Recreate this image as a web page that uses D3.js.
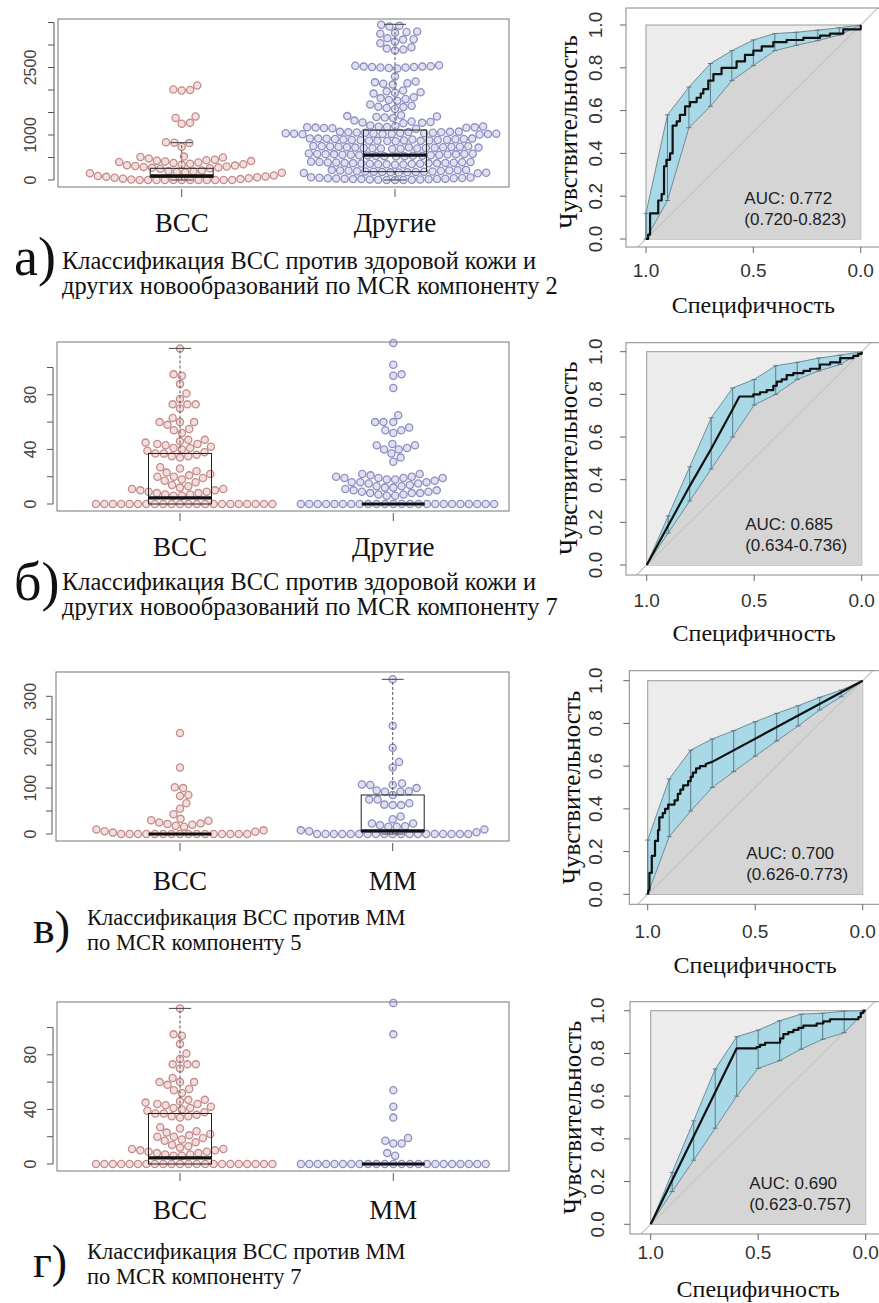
<!DOCTYPE html>
<html>
<head>
<meta charset="utf-8">
<script src="https://d3js.org/d3.v7.min.js"></script>
<style>
  body { margin: 0; background: #fff; }
  .serif { font-family: "Liberation Serif", "DejaVu Serif", serif; }
  .sans { font-family: "Liberation Sans", "DejaVu Sans", sans-serif; }
</style>
</head>
<body>
<svg id="fig" width="879" height="1303"></svg>
<script>
// ---------- beeswarm values ----------
var bccA = [0,0,0,0,0,0,0,0,0,0,0,0,10,20,30,40,50,60,70,80,90,100,
  150,160,170,180,190,200,210,
  250,260,270,280,290,300,310,320,330,340,350,360,
  380,390,400,410,420,430,440,450,
  480,500,510,520,
  740,820,830,840,
  1250,1270,1380,1410,
  1990,2000,2010,2100];

var otherA = [0,0,0,5,5,10,10,15,20,20,25,30,30,35,40,40,45,50,55,60,
  150,155,160,165,170,175,180,180,185,185,190,190,195,200,205,210,210,215,220,225,
  340,345,350,350,355,360,360,365,370,370,375,380,380,385,390,390,395,400,400,405,
  525,530,530,535,540,540,545,550,550,555,560,560,565,570,570,575,580,580,585,590,
  690,695,700,700,705,710,710,715,720,720,725,730,730,735,740,740,745,750,750,755,
  860,865,870,870,875,880,880,885,890,890,895,900,900,905,910,910,915,920,920,925,
  1010,1015,1020,1020,1025,1030,1030,1035,1040,1040,1045,1050,1050,1055,1060,1060,1065,1070,1070,1075,
  1140,1150,1155,1160,1165,1170,1175,1180,1185,1190,1200,1210,
  1260,1270,1280,1290,1300,1320,
  1380,1390,1400,1410,1420,1440,
  1580,1600,1620,1630,1650,1680,
  1760,1780,1800,1820,1840,
  1920,1940,1950,1970,1990,
  2120,2140,2150,2170,2190,
  2300,
  2480,2490,2500,2500,2510,2510,2520,2520,2530,2540,2550,
  2880,2900,2920,2950,3040,3070,3120,3130,3150,3250,3270,3290,3300,3410,3430,3450];

var bccB = [0,0,0,0,0,0,0,0,0,0,0,0,0,0,0,0,0,0,0,0,0,0,
  6,6,7,7,8,8,9,9,10,10,11,11,12,13,14,16,
  17,18,19,20,20,21,22,23,24,26,27,
  34,35,35,36,37,37,38,39,40,41,41,42,43,44,44,45,46,47,47,
  52,54,55,58,60,60,60,63,
  70,73,73,73,77,
  81,88,94,95,
  114];

var otherB = [0,0,0,0,0,0,0,0,0,0,0,0,0,0,0,0,0,0,0,0,0,0,0,0,
  6,6,7,7,8,8,8,9,9,10,10,11,12,12,13,13,14,15,15,16,16,16,17,18,18,19,19,19,19,20,20,21,22,22,
  31,34,37,40,40,41,43,43,44,
  52,54,54,56,60,60,60,65,
  85,94,95,102,
  118];

var bccC = [0,0,0,0,0,0,0,0,0,0,0,0,0,0,0,0,
  3,5,6,8,10,
  16,18,20,22,23,25,29,30,33,43,55,67,83,85,100,102,145,220];

var mmC = [0,0,0,0,0,0,0,0,0,0,0,0,0,0,0,0,0,0,0,
  4,6,8,10,
  16,16,17,19,23,23,32,38,
  63,63,64,67,75,75,85,92,92,93,95,100,107,107,108,110,
  145,157,188,236,337];

var mmD = [0,0,0,0,0,0,0,0,0,0,0,0,0,0,0,0,0,0,0,0,0,0,0,
  6,8,15,15,17,19,34,42,54,95,118];

// box statistics [lower whisker, Q1, median, Q3, upper whisker]
var statsA = [[0, 60, 90, 260, 830], [0, 185, 555, 1110, 3460]];
var statsB = [[0, 0, 4.5, 37, 114], [0, 0, 0, 0, 0]];
var statsC = [[0, 0, 0, 0, 0], [0, 5, 7, 85, 337]];
var statsD = [[0, 0, 4.5, 37, 114], [0, 0, 0, 0, 0]];

var catsAB = ["BCC", "Другие"];
var catsCD = ["BCC", "MM"];

var ticksA = [0, 500, 1000, 1500, 2000, 2500, 3000, 3500], labelsA = [0, 1000, 2500];
var ticksB = [0, 20, 40, 60, 80, 100], labelsB = [0, 40, 80];
var ticksC = [0, 50, 100, 150, 200, 250, 300], labelsC = [0, 100, 200, 300];

// ---------- ROC data ----------
var specGrid = [1, .9, .8, .7, .6, .5, .4, .3, .2, .1, 0];
var ciHiA = [.12, .58, .71, .82, .88, .93, .96, .966, .976, .987, 1];
var ciLoA = [0, .18, .52, .62, .74, .81, .88, .905, .927, .953, 1];
var ciHiB = [0, .23, .46, .69, .83, .87, .934, .95, .97, .984, 1];
var ciLoB = [0, .15, .30, .45, .60, .75, .80, .87, .91, .94, 1];
var ciHiC = [.254, .54, .675, .727, .766, .808, .847, .883, .922, .956, 1];
var ciLoC = [0, .27, .39, .50, .574, .647, .718, .788, .863, .925, 1];
var ciHiD = [0, .243, .484, .727, .878, .909, .953, .984, .988, .998, 1];
var ciLoD = [0, .153, .30, .45, .60, .73, .766, .82, .866, .897, 1];

var rocA = [[1,0],[.99,0],[.99,.02],[.981,.02],[.981,.12],[.943,.12],[.943,.18],[.927,.18],[.927,.21],
  [.916,.21],[.916,.34],[.905,.34],[.905,.37],[.888,.37],[.888,.40],[.876,.40],[.876,.53],[.857,.53],[.857,.55],
  [.842,.55],[.842,.58],[.818,.58],[.818,.62],[.795,.62],[.795,.64],[.764,.64],[.764,.66],[.745,.66],[.745,.68],
  [.733,.68],[.733,.70],[.71,.70],[.71,.74],[.686,.74],[.686,.77],[.648,.77],[.648,.80],[.578,.80],[.578,.83],
  [.539,.83],[.539,.86],[.50,.86],[.50,.88],[.461,.88],[.461,.90],[.407,.90],[.407,.92],[.345,.92],[.345,.93],
  [.267,.93],[.267,.94],[.189,.94],[.189,.95],[.143,.95],[.143,.96],[.081,.96],[.081,.98],[0,.98],[0,1]];
var rocB = [[1,0],[.8,.37],[.7,.545],[.6,.73],[.569,.79],[.504,.79],[.504,.80],[.473,.80],[.473,.81],[.442,.81],
  [.442,.82],[.411,.82],[.411,.84],[.395,.84],[.395,.86],[.372,.86],[.372,.87],[.349,.87],[.349,.89],[.318,.89],
  [.318,.90],[.271,.90],[.271,.91],[.24,.91],[.24,.92],[.194,.92],[.194,.94],[.147,.94],[.147,.95],[.10,.95],
  [.10,.97],[.039,.97],[.039,.98],[.016,.98],[.016,.99],[0,.99],[0,1]];
var rocC = [[1,0],[.995,.02],[.992,.02],[.992,.10],[.981,.10],[.981,.18],[.966,.18],[.966,.25],[.952,.25],
  [.952,.30],[.946,.30],[.946,.36],[.93,.36],[.93,.38],[.919,.38],[.919,.40],[.905,.40],[.905,.42],[.875,.42],
  [.875,.44],[.86,.44],[.86,.47],[.848,.47],[.848,.49],[.835,.49],[.835,.51],[.812,.51],[.812,.53],[.8,.53],
  [.8,.55],[.79,.55],[.79,.57],[.775,.57],[.775,.59],[.757,.59],[.757,.60],[.73,.60],[.73,.61],[.70,.62],[0,1]];
var rocD = [[1,0],[.6,.824],[.507,.824],[.507,.83],[.491,.83],[.491,.84],[.468,.84],[.468,.85],[.398,.85],
  [.398,.87],[.383,.87],[.383,.89],[.36,.89],[.36,.90],[.336,.90],[.336,.91],[.313,.91],[.313,.92],[.29,.92],
  [.29,.93],[.228,.93],[.228,.94],[.197,.94],[.197,.95],[.166,.95],[.166,.96],[.034,.96],[.034,.97],[.023,.97],
  [.023,.99],[.011,.99],[.011,1],[0,1]];

var aucA = ["AUC: 0.772", "(0.720-0.823)"];
var aucB = ["AUC: 0.685", "(0.634-0.736)"];
var aucC = ["AUC: 0.700", "(0.626-0.773)"];
var aucD = ["AUC: 0.690", "(0.623-0.757)"];

var capA = ["Классификация BCC против здоровой кожи и", "других новообразований по MCR компоненту 2"];
var capB = ["Классификация BCC против здоровой кожи и", "других новообразований по MCR компоненту 7"];
var capC = ["Классификация BCC против MM", "по MCR компоненту 5"];
var capD = ["Классификация BCC против MM", "по MCR компоненту 7"];

// ---------- drawing ----------
var svg = d3.select("#fig");
var SANS = "Liberation Sans, DejaVu Sans, sans-serif";
var SERIF = "Liberation Serif, DejaVu Serif, serif";
var ptStroke = ["#c48b8b", "#8e8ec0"];
var ptFill = ["#f3dede", "#e0e0f1"];
var DIAM = 8.4;

function serifText(sel, size) {
  return sel.attr("class", "serif").attr("font-family", SERIF).attr("font-size", size);
}
function sansText(sel, size) {
  return sel.attr("class", "sans").attr("font-family", SANS).attr("font-size", size);
}

function swarm(vals, y, d) {
  var pts = vals.map(function(v) { return {v: v, y: y(v)}; });
  pts.sort(function(a, b) { return a.v - b.v; });
  var placed = [];
  pts.forEach(function(p) {
    var cand = [0];
    placed.forEach(function(q) {
      var dy = q.y - p.y;
      if (Math.abs(dy) < d) {
        var dx = Math.sqrt(d * d - dy * dy);
        cand.push(q.dx + dx, q.dx - dx);
      }
    });
    cand.sort(function(a, b) { return Math.abs(a) - Math.abs(b); });
    for (var i = 0; i < cand.length; i++) {
      var c = cand[i];
      var ok = placed.every(function(q) {
        var ddx = q.dx - c, ddy = q.y - p.y;
        return ddx * ddx + ddy * ddy >= d * d - 0.01;
      });
      if (ok) { p.dx = c; break; }
    }
    placed.push(p);
  });
  return placed;
}

function drawSwarmPanel(P) {
  var g = svg.append("g");
  var y = d3.scaleLinear().domain([0, P.vmax]).range([P.y0, P.y1]);
  var x = d3.scalePoint().domain(P.cats).range(P.catX);

  // points
  P.groups.forEach(function(vals, gi) {
    var pts = swarm(vals, y, DIAM);
    g.selectAll(null).data(pts).enter().append("circle")
      .attr("cx", function(d) { return x(P.cats[gi]) + d.dx; })
      .attr("cy", function(d) { return d.y; })
      .attr("r", 3.6)
      .attr("fill", ptFill[gi])
      .attr("stroke", ptStroke[gi])
      .attr("stroke-width", 1.3);
  });

  // boxplots
  P.stats.forEach(function(s, gi) {
    var cx = x(P.cats[gi]);
    var hw = 31.5;
    if (s[4] > s[3]) {
      g.append("line").attr("x1", cx).attr("x2", cx).attr("y1", y(s[3])).attr("y2", y(s[4]))
        .attr("stroke", "#555").attr("stroke-dasharray", "3,2");
      g.append("line").attr("x1", cx - 11).attr("x2", cx + 11).attr("y1", y(s[4])).attr("y2", y(s[4]))
        .attr("stroke", "#444");
    }
    if (s[1] > s[0]) {
      g.append("line").attr("x1", cx).attr("x2", cx).attr("y1", y(s[0])).attr("y2", y(s[1]))
        .attr("stroke", "#555").attr("stroke-dasharray", "3,2");
      g.append("line").attr("x1", cx - 11).attr("x2", cx + 11).attr("y1", y(s[0])).attr("y2", y(s[0]))
        .attr("stroke", "#444");
    }
    if (s[3] > s[1]) {
      g.append("rect").attr("x", cx - hw).attr("width", 2 * hw)
        .attr("y", y(s[3])).attr("height", y(s[1]) - y(s[3]))
        .attr("fill", "none").attr("stroke", "#222").attr("stroke-width", 1);
    }
    g.append("line").attr("x1", cx - hw).attr("x2", cx + hw).attr("y1", y(s[2])).attr("y2", y(s[2]))
      .attr("stroke", "#111").attr("stroke-width", 3.2);
  });

  // frame
  g.append("rect").attr("x", P.left).attr("y", P.top)
    .attr("width", P.right - P.left).attr("height", P.bottom - P.top)
    .attr("fill", "none").attr("stroke", "#777").attr("stroke-width", 1);

  // y axis
  var ax = P.left - 4;
  g.append("line").attr("x1", ax).attr("x2", ax)
    .attr("y1", y(P.ticks[0])).attr("y2", y(P.ticks[P.ticks.length - 1]))
    .attr("stroke", "#555");
  g.selectAll(null).data(P.ticks).enter().append("line")
    .attr("x1", ax - 6).attr("x2", ax).attr("y1", y).attr("y2", y).attr("stroke", "#555");
  sansText(g.selectAll(null).data(P.labels).enter().append("text"), 16)
    .attr("transform", function(d) { return "translate(36," + y(d) + ") rotate(-90)"; })
    .attr("text-anchor", "middle").attr("fill", "#444")
    .text(function(d) { return d; });

  // x ticks and category labels
  g.selectAll(null).data(P.cats).enter().append("line")
    .attr("x1", x).attr("x2", x).attr("y1", P.bottom + 2).attr("y2", P.bottom + 10)
    .attr("stroke", "#555");
  serifText(g.selectAll(null).data(P.cats).enter().append("text"), 27)
    .attr("x", x).attr("y", P.catY).attr("text-anchor", "middle").attr("fill", "#111")
    .text(function(d) { return d; });

  // caption
  serifText(g.append("text"), P.letterSize)
    .attr("x", P.letterX).attr("y", P.letterY).attr("fill", "#111")
    .text(P.letter);
  serifText(g.selectAll(null).data(P.caption).enter().append("text"), P.capSize)
    .attr("x", P.capX).attr("y", function(d, i) { return P.capY + i * 24.5; }).attr("fill", "#111")
    .text(function(d) { return d; });
}

function drawRoc(R, id) {
  var g = svg.append("g");
  var x = d3.scaleLinear().domain([1, 0]).range([R.x0, R.x1]);
  var y = d3.scaleLinear().domain([0, 1]).range([R.y0, R.y1]);
  var oRight = R.x1 + (R.x0 - R.oLeft);

  g.append("clipPath").attr("id", "clip" + id).append("rect")
    .attr("x", R.oLeft).attr("y", R.oTop).attr("width", oRight - R.oLeft).attr("height", R.oBot - R.oTop);
  var c = g.append("g").attr("clip-path", "url(#clip" + id + ")");

  // full square (max AUC polygon)
  c.append("rect").attr("x", x(1)).attr("y", y(1)).attr("width", x(0) - x(1)).attr("height", y(0) - y(1))
    .attr("fill", "#ececec").attr("stroke", "#9a9a9a");
  // area under curve
  var line = d3.line().x(function(d) { return x(d[0]); }).y(function(d) { return y(d[1]); });
  c.append("path").attr("d", line(R.roc.concat([[0, 0]])) + "Z").attr("fill", "#d5d5d5");
  // identity line
  c.append("line").attr("x1", x(1.2)).attr("y1", y(-0.2)).attr("x2", x(-0.2)).attr("y2", y(1.2))
    .attr("stroke", "#c4c4c4").attr("stroke-width", 1.2);
  // CI band
  var band = specGrid.map(function(s, i) { return [s, R.hi[i]]; })
    .concat(specGrid.map(function(s, i) { return [s, R.lo[i]]; }).reverse());
  c.append("path").attr("d", line(band) + "Z")
    .attr("fill", "#a9d8e6").attr("stroke", "#6f8d98").attr("stroke-width", 1);
  // CI bars
  specGrid.forEach(function(s, i) {
    if (s > 0 && R.hi[i] - R.lo[i] > 0.005) {
      c.append("line").attr("x1", x(s)).attr("x2", x(s)).attr("y1", y(R.lo[i])).attr("y2", y(R.hi[i]))
        .attr("stroke", "#5d7b86").attr("stroke-width", 1);
      [R.lo[i], R.hi[i]].forEach(function(v) {
        c.append("line").attr("x1", x(s) - 2.5).attr("x2", x(s) + 2.5).attr("y1", y(v)).attr("y2", y(v))
          .attr("stroke", "#5d7b86").attr("stroke-width", 1);
      });
    }
  });
  // ROC curve
  c.append("path").attr("d", line(R.roc)).attr("fill", "none")
    .attr("stroke", "#111").attr("stroke-width", 2.2).attr("stroke-linejoin", "round");

  // AUC text
  sansText(g.selectAll(null).data(R.auc).enter().append("text"), 17)
    .attr("x", x(0.542)).attr("y", function(d, i) { return y(i === 0 ? 0.164 : 0.066); })
    .attr("fill", "#222")
    .text(function(d) { return d; });

  // frame
  g.append("rect").attr("x", R.oLeft).attr("y", R.oTop).attr("width", oRight - R.oLeft).attr("height", R.oBot - R.oTop)
    .attr("fill", "none").attr("stroke", "#888");

  // axes
  var yt = [0, .2, .4, .6, .8, 1], xt = [1, .5, 0], f = d3.format(".1f");
  g.selectAll(null).data(yt).enter().append("line")
    .attr("x1", R.oLeft - 6).attr("x2", R.oLeft).attr("y1", y).attr("y2", y).attr("stroke", "#666");
  sansText(g.selectAll(null).data(yt).enter().append("text"), 19)
    .attr("transform", function(d) { return "translate(" + R.yLabX + "," + y(d) + ") rotate(-90)"; })
    .attr("text-anchor", "middle").attr("fill", "#333")
    .text(f);
  g.selectAll(null).data(xt).enter().append("line")
    .attr("x1", x).attr("x2", x).attr("y1", R.oBot).attr("y2", R.oBot + 6).attr("stroke", "#666");
  sansText(g.selectAll(null).data(xt).enter().append("text"), 19)
    .attr("x", x).attr("y", R.xLabY).attr("text-anchor", "middle").attr("fill", "#333")
    .text(f);

  serifText(g.append("text"), 24)
    .attr("x", (R.x0 + R.x1) / 2).attr("y", R.titleY).attr("text-anchor", "middle").attr("fill", "#111")
    .text("Специфичность");
  serifText(g.append("text"), 25)
    .attr("transform", "translate(" + R.yTitleX + "," + ((R.y0 + R.y1) / 2) + ") rotate(-90)")
    .attr("text-anchor", "middle").attr("fill", "#111")
    .text("Чувствительность");
}

// ---------- layout ----------
drawSwarmPanel({left: 58, right: 509, top: 19, bottom: 187, vmax: 3500, y0: 180, y1: 22.5,
  ticks: ticksA, labels: labelsA, cats: catsAB, catX: [181.7, 395], catY: 232,
  groups: [bccA, otherA], stats: statsA,
  letter: "а)", letterX: 14, letterY: 275, letterSize: 54,
  caption: capA, capX: 62, capY: 269, capSize: 24.4});
drawSwarmPanel({left: 57, right: 509, top: 342, bottom: 511, vmax: 100, y0: 504, y1: 367.5,
  ticks: ticksB, labels: labelsB, cats: catsAB, catX: [180, 393.3], catY: 556,
  groups: [bccB, otherB], stats: statsB,
  letter: "б)", letterX: 14, letterY: 600, letterSize: 54,
  caption: capB, capX: 62, capY: 590, capSize: 24.4});
drawSwarmPanel({left: 56, right: 509, top: 672, bottom: 841, vmax: 300, y0: 834, y1: 696.3,
  ticks: ticksC, labels: labelsC, cats: catsCD, catX: [180, 392.7], catY: 890,
  groups: [bccC, mmC], stats: statsC,
  letter: "в)", letterX: 33, letterY: 943, letterSize: 46,
  caption: capC, capX: 87, capY: 925, capSize: 22.5});
drawSwarmPanel({left: 57, right: 509, top: 1002, bottom: 1171, vmax: 100, y0: 1164, y1: 1027.5,
  ticks: ticksB, labels: labelsB, cats: catsCD, catX: [180, 393.3], catY: 1219,
  groups: [bccB, mmD], stats: statsD,
  letter: "г)", letterX: 33, letterY: 1277, letterSize: 46,
  caption: capD, capX: 87, capY: 1259, capSize: 22.5});

drawRoc({x0: 646, x1: 860.7, y0: 239, y1: 25, oLeft: 626, oTop: 8, oBot: 247,
  xLabY: 277, titleY: 313, yLabX: 602, yTitleX: 577,
  roc: rocA, hi: ciHiA, lo: ciLoA, auc: aucA}, "a");
drawRoc({x0: 646.7, x1: 861.7, y0: 565, y1: 351.7, oLeft: 626, oTop: 342.7, oBot: 575,
  xLabY: 607, titleY: 641, yLabX: 602, yTitleX: 577,
  roc: rocB, hi: ciHiB, lo: ciLoB, auc: aucB}, "b");
drawRoc({x0: 647.7, x1: 862.7, y0: 894.3, y1: 680.7, oLeft: 629.3, oTop: 670.7, oBot: 904.3,
  xLabY: 938, titleY: 973, yLabX: 602, yTitleX: 580,
  roc: rocC, hi: ciHiC, lo: ciLoC, auc: aucC}, "c");
drawRoc({x0: 650.7, x1: 865.7, y0: 1224.3, y1: 1010.7, oLeft: 630, oTop: 1001.7, oBot: 1234,
  xLabY: 1259, titleY: 1297, yLabX: 604, yTitleX: 581,
  roc: rocD, hi: ciHiD, lo: ciLoD, auc: aucD}, "d");
</script>
</body>
</html>
